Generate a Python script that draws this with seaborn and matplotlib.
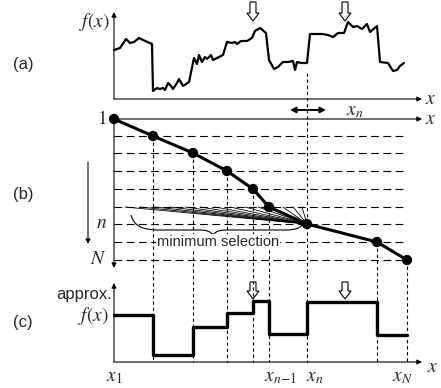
import matplotlib
matplotlib.use("Agg")
import matplotlib.pyplot as plt
import seaborn as sns
import pandas as pd
from matplotlib.patches import FancyArrow, PathPatch
from matplotlib.path import Path

sns.set_style("white")
plt.rcParams['font.family'] = ['Liberation Sans', 'DejaVu Sans']
plt.rcParams['mathtext.fontset'] = 'stix'

# --- data (figure units, y grows downward) ---
# panel (a): the signal f(x)
curve_x = [114, 120, 126, 130, 134, 139, 143, 152, 153, 157, 160, 163, 165, 168, 171, 173,
           177, 179, 183, 186, 189, 194, 197, 199, 202, 205, 207, 211, 213, 217, 223, 227,
           232, 235, 237, 241, 247, 252, 255, 260, 266, 269, 274, 278, 283, 288, 293, 295,
           297, 301, 307, 310, 322, 328, 333, 338, 344, 348, 353, 357, 362, 367, 370, 377,
           380, 388, 393, 397, 400, 404]
curve_y = [50, 48, 39, 43, 42, 38, 40, 44, 91, 88, 89, 88, 90, 83, 86, 89,
           83, 79, 86, 84, 82, 58, 64, 55, 62, 57, 59, 55, 60, 58, 55, 42,
           43, 42, 44, 41, 41, 38, 31, 28, 33, 60, 69, 67, 62, 62, 61, 70,
           62, 63, 63, 34, 34, 35, 37, 33, 33, 22, 27, 26, 29, 24, 32, 26,
           62, 63, 71, 70, 66, 63]

# panel (b): segment boundaries x_1..x_N and their grid rows 1..N
node_x = [114, 153, 193, 227, 253, 269, 307, 377, 407]
node_row = [119, 136, 153, 171, 189, 207, 224, 242, 260]
row_labels = ['$1$', '', '', '', '', '', '$n$', '', '$N$']
# candidate predecessors on row n-1 for the minimum selection
cand_x = [125, 140, 155, 170, 185, 200, 215, 230, 245, 258, 270, 283, 293, 302]

# panel (c): piecewise constant approximation, one level per segment
step_level = [315, 355, 327, 313, 301, 334, 302, 335]
tick_labels = {114: '$x_1$', 280: '$x_{n\\mathrm{-}1}$', 315: '$x_n$', 403: '$x_N$'}

# selected peaks (hollow arrows)
peak_a = [253, 345]
peak_c = [253, 345]

fig = plt.figure(figsize=(4.41, 3.88), dpi=100)
ax = fig.add_axes([0, 0, 1, 1])
ax.set_xlim(0, 441)
ax.set_ylim(388, 0)
ax.axis('off')

axkw = dict(arrowstyle='-|>', lw=0.8, color='black', mutation_scale=7, shrinkA=0, shrinkB=0)
serif = dict(family='Liberation Serif', fontsize=14)

# ---------- (a) ----------
ax.annotate('', xy=(114, 12), xytext=(114, 99), arrowprops=axkw)
ax.annotate('', xy=(422, 99), xytext=(114, 99), arrowprops=axkw)
sns.lineplot(x=curve_x, y=curve_y, sort=False, estimator=None, color='black', lw=1.6, ax=ax)
ax.text(110, 22, '$f(x)$', ha='right', va='center', **serif)
ax.text(425, 99, '$x$', ha='left', va='center', **serif)
ax.text(23, 65, '(a)', ha='center', va='center', fontsize=12)
for px in peak_a:
    ax.add_patch(FancyArrow(px, 2, 0, 19, width=6, head_width=12, head_length=8,
                            length_includes_head=True, fc='white', ec='black', lw=0.8))
ax.annotate('', xy=(290, 110), xytext=(326, 110),
            arrowprops=dict(arrowstyle='<|-|>', lw=1.4, color='black', mutation_scale=8,
                            shrinkA=0, shrinkB=0))
ax.text(346, 111, '$x_n$', ha='left', va='center', **serif)

# ---------- (b) ----------
ax.annotate('', xy=(422, 119), xytext=(114, 119), arrowprops=axkw)
ax.text(425, 119, '$x$', ha='left', va='center', **serif)
ax.annotate('', xy=(114, 268), xytext=(114, 119), arrowprops=axkw)
ax.annotate('', xy=(88, 244), xytext=(88, 162), arrowprops=axkw)
ax.text(23, 195, '(b)', ha='center', va='center', fontsize=12)

for r in node_row[1:]:
    ax.plot([114, 404], [r, r], color='black', lw=0.8, ls=(0, (7, 4)))
for x, r, lab in zip(node_x, node_row, row_labels):
    if lab:
        ax.text(107, r, lab, ha='right', va='center', **serif)
# dotted verticals from each boundary down to panel (c)
for x, r in zip(node_x[1:], node_row[1:]):
    top = 73 if x == 307 else r
    ax.plot([x, x], [top, 362], color='black', lw=0.8, ls=(0, (3, 2.5)))

# candidate fan for row n
for cx in cand_x:
    ax.plot([cx, node_x[6]], [node_row[5], node_row[6]], color='black', lw=0.6)

sns.lineplot(x=node_x, y=node_row, sort=False, estimator=None, color='black', lw=2.2, ax=ax)
sns.scatterplot(x=node_x, y=node_row, color='black', s=55, edgecolor='none', zorder=5, ax=ax)

# curly brace
verts = [(131, 215), (134, 226), (142, 230), (160, 230),
         (200, 230), (210, 230), (213, 235),
         (216, 230), (226, 230), (285, 230),
         (296, 230), (301, 228), (304, 222)]
codes = [Path.MOVETO, Path.CURVE4, Path.CURVE4, Path.CURVE4,
         Path.LINETO, Path.CURVE3, Path.CURVE3,
         Path.CURVE3, Path.CURVE3, Path.LINETO,
         Path.CURVE4, Path.CURVE4, Path.CURVE4]
ax.add_patch(PathPatch(Path(verts, codes), fc='none', ec='black', lw=0.8))
ax.text(218, 242, 'minimum selection', ha='center', va='center', fontsize=10.5,
        bbox=dict(fc='white', ec='none', pad=0.5))

# ---------- (c) ----------
ax.annotate('', xy=(114, 283), xytext=(114, 362), arrowprops=axkw)
ax.annotate('', xy=(422, 362), xytext=(114, 362), arrowprops=axkw)
ax.text(433, 367, '$x$', ha='center', va='center', **serif)
ax.text(23, 323, '(c)', ha='center', va='center', fontsize=12)
ax.text(112, 295, 'approx.', ha='right', va='center', fontsize=12)
ax.text(109, 316, '$f(x)$', ha='right', va='center', **serif)
step_df = pd.DataFrame({'x': node_x, 'y': step_level + [step_level[-1]]})
sns.lineplot(data=step_df, x='x', y='y', drawstyle='steps-post', estimator=None,
             color='black', lw=2.4, ax=ax)
for px in peak_c:
    ax.add_patch(FancyArrow(px, 282, 0, 17, width=6, head_width=12, head_length=8,
                            length_includes_head=True, fc='white', ec='black', lw=0.8))
for tx, lab in tick_labels.items():
    ax.text(tx, 378, lab, ha='center', va='center', **serif)

fig.savefig('out.png', dpi=100)
